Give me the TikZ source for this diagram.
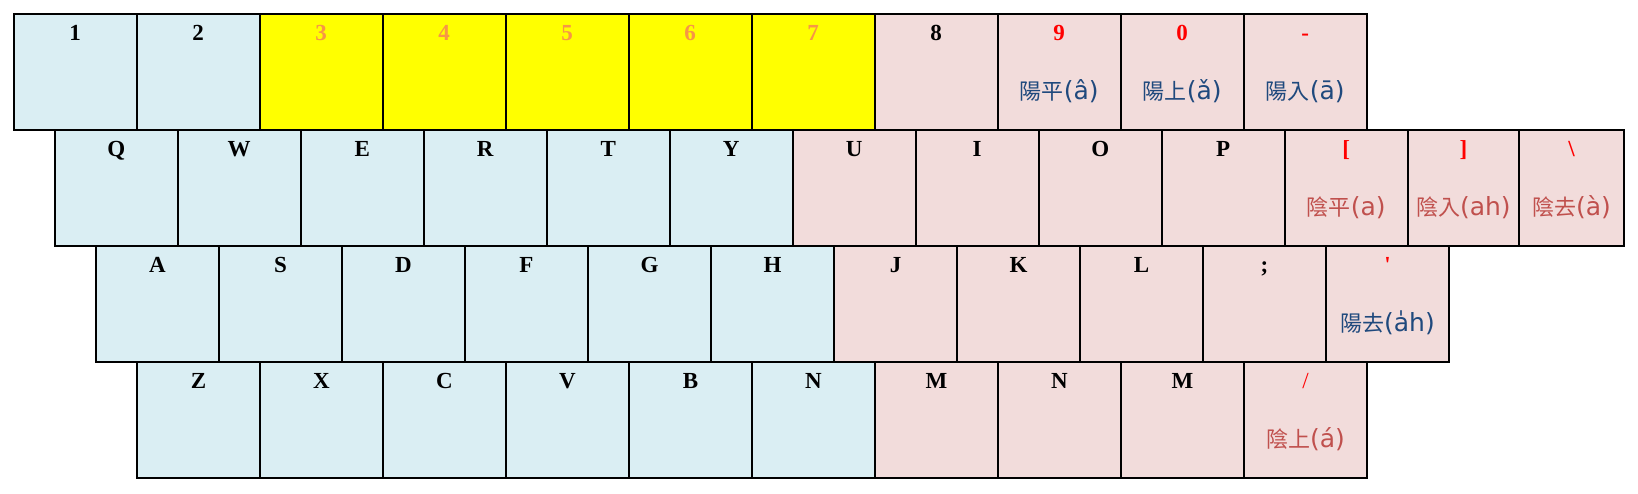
\documentclass[tikz,border=0pt]{standalone}
\usepackage{fontspec}
\setmainfont{Liberation Serif}
\newfontfamily\cjkfont{Noto Sans CJK TC}
\newfontfamily\latfont{DejaVu Sans}
\usetikzlibrary{positioning}
\definecolor{keyblue}{HTML}{DAEEF3}
\definecolor{keypink}{HTML}{F2DCDB}
\definecolor{keyyellow}{HTML}{FFFF00}
\definecolor{digitorange}{HTML}{F79646}
\definecolor{markred}{HTML}{FF0000}
\definecolor{yangblue}{HTML}{1F497D}
\definecolor{yinred}{HTML}{C0504D}
\tikzset{
  % --- key caps ---
  keybox/.style={draw=black, line width=0.8pt, anchor=north west,
                 inner sep=0pt, outer sep=0pt,
                 minimum width=61.5pt, minimum height=58pt},
  bluekey/.style={keybox, fill=keyblue},
  pinkkey/.style={keybox, fill=keypink},
  yellowkey/.style={keybox, fill=keyyellow},
  % --- key letters ---
  keyname/.style={anchor=base, inner sep=0pt,
                  font=\bfseries\fontsize{11.5}{12}\selectfont},
  keymark/.style={keyname, text=markred},
  % --- tone names under the marks ---
  tonename/.style={anchor=base, inner sep=0pt,
                   font=\latfont\fontsize{12.5}{14}\selectfont},
  yangtone/.style={tonename, text=yangblue},
  yintone/.style={tonename, text=yinred},
}
\newcommand{\tone}[2]{{\cjkfont\fontsize{11}{14}\selectfont #1}(#2)}

\begin{document}
\begin{tikzpicture}[x=0.5pt, y=-0.5pt]
  \useasboundingbox (0,0) rectangle (1638,493);

  % --- number row ---
  \foreach \t [count=\i from 0] in {1,2}{
    \node[bluekey] (r1-\i) at (13.7+123*\i,13.7) {};
    \node[keyname] (n1-\i) at ([yshift=-13.5pt]r1-\i.north) {\t};
  }
  \foreach \t [count=\i from 2] in {3,...,7}{
    \node[yellowkey] (r1-\i) at (13.7+123*\i,13.7) {};
    \node[keyname, text=digitorange] (n1-\i) at ([yshift=-13.5pt]r1-\i.north) {\t};
  }
  \node[pinkkey] (r1-7) at (13.7+123*7,13.7) {};
  \node[keyname] (n1-7) at ([yshift=-13.5pt]r1-7.north) {8};
  \node[pinkkey] (r1-8) at (13.7+123*8,13.7) {};
  \node[keymark] (n1-8) at ([yshift=-13.5pt]r1-8.north) {9};
  \node[yangtone] (t1-8) at ([yshift=-42.75pt]r1-8.north) {\tone{陽平}{â}};
  \node[pinkkey] (r1-9) at (13.7+123*9,13.7) {};
  \node[keymark] (n1-9) at ([yshift=-13.5pt]r1-9.north) {0};
  \node[yangtone] (t1-9) at ([yshift=-42.75pt]r1-9.north) {\tone{陽上}{ǎ}};
  \node[pinkkey] (r1-10) at (13.7+123*10,13.7) {};
  \node[keymark] (n1-10) at ([yshift=-13.5pt]r1-10.north) {-};
  \node[yangtone] (t1-10) at ([yshift=-42.75pt]r1-10.north) {\tone{陽入}{ā}};

  % --- top letter row ---
  \foreach \t [count=\i from 0] in {Q,W,E,R,T,Y}{
    \node[bluekey] (r2-\i) at (54.7+123*\i,129.7) {};
    \node[keyname] (n2-\i) at ([yshift=-13.5pt]r2-\i.north) {\t};
  }
  \foreach \t [count=\i from 6] in {U,I,O,P}{
    \node[pinkkey] (r2-\i) at (54.7+123*\i,129.7) {};
    \node[keyname] (n2-\i) at ([yshift=-13.5pt]r2-\i.north) {\t};
  }
  \node[pinkkey] (r2-10) at (54.7+123*10,129.7) {};
  \node[keymark] (n2-10) at ([yshift=-13.5pt]r2-10.north) {[};
  \node[yintone] (t2-10) at ([yshift=-42.75pt]r2-10.north) {\tone{陰平}{a}};
  \node[pinkkey, minimum width=55.65pt] (r2-11) at (1407.7,129.7) {};
  \node[keymark] (n2-11) at ([yshift=-13.5pt]r2-11.north) {]};
  \node[yintone] (t2-11) at ([yshift=-42.75pt]r2-11.north) {\tone{陰入}{ah}};
  \node[pinkkey, minimum width=52.5pt] (r2-12) at (1519,129.7) {};
  \node[keymark] (n2-12) at ([yshift=-13.5pt]r2-12.north) {\textbackslash};
  \node[yintone] (t2-12) at ([yshift=-42.75pt]r2-12.north) {\tone{陰去}{à}};

  % --- home row ---
  \foreach \t [count=\i from 0] in {A,S,D,F,G,H}{
    \node[bluekey] (r3-\i) at (96+123*\i,245.7) {};
    \node[keyname] (n3-\i) at ([yshift=-13.5pt]r3-\i.north) {\t};
  }
  \foreach \t [count=\i from 6] in {J,K,L,;}{
    \node[pinkkey] (r3-\i) at (96+123*\i,245.7) {};
    \node[keyname] (n3-\i) at ([yshift=-13.5pt]r3-\i.north) {\t};
  }
  \node[pinkkey] (r3-10) at (96+123*10,245.7) {};
  \node[keymark] (n3-10) at ([yshift=-13.5pt]r3-10.north) {\textquotesingle};
  \node[yangtone] (t3-10) at ([yshift=-42.75pt]r3-10.north) {\tone{陽去}{a̍h}};

  % --- bottom row ---
  \foreach \t [count=\i from 0] in {Z,X,C,V,B,N}{
    \node[bluekey] (r4-\i) at (137+123*\i,361.7) {};
    \node[keyname] (n4-\i) at ([yshift=-13.5pt]r4-\i.north) {\t};
  }
  \foreach \t [count=\i from 6] in {M,N,M}{
    \node[pinkkey] (r4-\i) at (137+123*\i,361.7) {};
    \node[keyname] (n4-\i) at ([yshift=-13.5pt]r4-\i.north) {\t};
  }
  \node[pinkkey] (r4-9) at (137+123*9,361.7) {};
  \node[keymark, font=\fontsize{11.5}{12}\selectfont] (n4-9) at ([yshift=-13.5pt]r4-9.north) {/};
  \node[yintone] (t4-9) at ([yshift=-42.75pt]r4-9.north) {\tone{陰上}{á}};
\end{tikzpicture}
\end{document}
